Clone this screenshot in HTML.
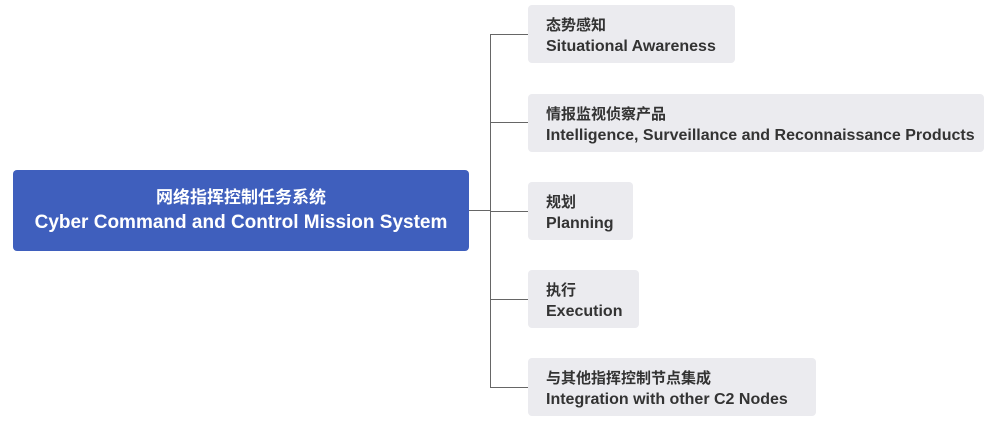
<!DOCTYPE html>
<html><head><meta charset="utf-8"><style>
body{margin:0;width:996px;height:421px;background:#fff;position:relative;overflow:hidden;font-family:"Liberation Sans","Noto Sans CJK SC",sans-serif;}
.main{position:absolute;left:13px;top:170px;width:456px;height:81px;background:#3f5fbd;border-radius:4px;color:#fff;font-weight:bold;font-size:19px;text-align:center;line-height:25px;box-sizing:border-box;padding-top:15px;}
.main .cn{font-size:17px;}
.b{position:absolute;left:528px;height:58px;background:#ebebef;border-radius:4px;color:#333;font-weight:bold;font-size:15px;line-height:21px;box-sizing:border-box;padding:10px 0 0 18px;}
.b span{font-size:16px;}
.l{position:absolute;background:#666;}
</style></head><body>
<div class="l" style="left:469px;top:210px;width:21px;height:1px"></div>
<div class="l" style="left:490px;top:34px;width:1px;height:353px"></div>
<div class="l" style="left:490px;top:34px;width:38px;height:1px"></div>
<div class="l" style="left:490px;top:122px;width:38px;height:1px"></div>
<div class="l" style="left:490px;top:211px;width:38px;height:1px"></div>
<div class="l" style="left:490px;top:299px;width:38px;height:1px"></div>
<div class="l" style="left:490px;top:387px;width:38px;height:1px"></div>
<div class="main"><div class="cn">网络指挥控制任务系统</div><div>Cyber Command and Control Mission System</div></div>
<div class="b" style="top:5px;width:207px">态势感知<br><span>Situational Awareness</span></div>
<div class="b" style="top:94px;width:456px">情报监视侦察产品<br><span>Intelligence, Surveillance and Reconnaissance Products</span></div>
<div class="b" style="top:182px;width:105px">规划<br><span>Planning</span></div>
<div class="b" style="top:270px;width:111px">执行<br><span>Execution</span></div>
<div class="b" style="top:358px;width:288px">与其他指挥控制节点集成<br><span>Integration with other C2 Nodes</span></div>
</body></html>
